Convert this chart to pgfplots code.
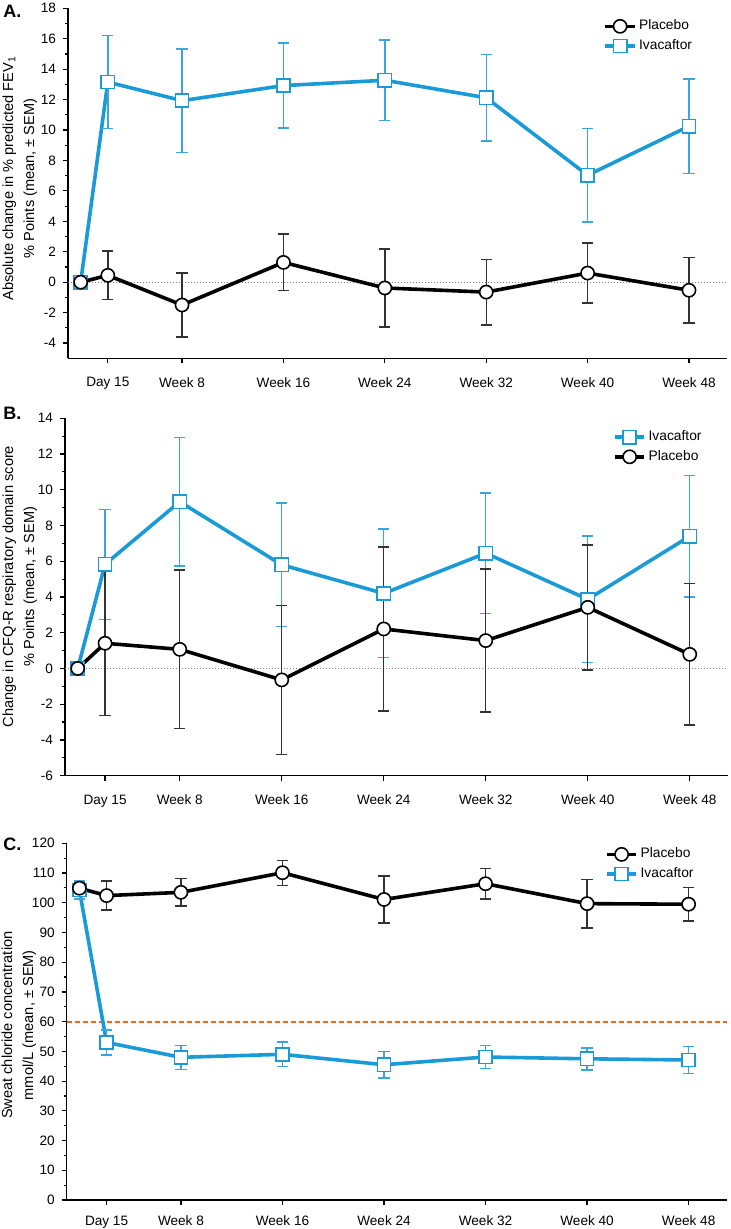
\documentclass[border=0pt]{standalone}
\usepackage{fontspec}
\setmainfont{Liberation Sans}
\usepackage{pgfplots}
\pgfplotsset{compat=1.18}

\definecolor{ivablue}{HTML}{1A9BD7}
\definecolor{errblue}{HTML}{3AA6DA}
\definecolor{refor}{RGB}{240,100,30}

\pgfplotsset{
  base/.style={
    scale only axis,
    axis x line*=bottom, axis y line*=left,
    xmin=-1, xmax=51,
    xtick={2.142857,8,16,24,32,40,48},
    xticklabels={Day 15,Week 8,Week 16,Week 24,Week 32,Week 40,Week 48},
    tick align=outside,
    major tick length=2.5pt, minor tick length=1.5pt,
    tick style={black, line width=0.6pt},
    minor x tick num=0,
    axis line style={line width=0.7pt},
    ticklabel style={font=\fontsize{6.8}{8}\selectfont},
    /pgf/number format/assume math mode=true,
    minor y tick num=1,
    ylabel style={align=center, font=\fontsize{7.3}{10.5}\selectfont, anchor=south},
    legend style={draw=none, fill=none, anchor=north west, font=\fontsize{6.9}{8.5}\selectfont,
      row sep=0.9pt, inner sep=0pt, nodes={inner sep=1.2pt}},
    legend cell align=left,
    legend image code/.code={\draw[mark repeat=2,mark phase=2,##1] plot coordinates {(0cm,0cm) (0.26cm,0cm) (0.52cm,0cm)};},
    clip=false,
  },
  plac/.style={black, line width=1.8pt, mark=*, mark size=3.3pt,
    mark options={solid, fill=white, draw=black, line width=0.8pt},
    error bars/.cd, y dir=both, y explicit,
    error bar style={line width=0.7pt, black!80},
    error mark options={rotate=90, mark size=2.8pt, line width=0.7pt, black!80}},
  ivac/.style={ivablue, line width=1.8pt, mark=square*, mark size=3.3pt,
    mark options={solid, fill=white, draw=ivablue, line width=0.8pt},
    error bars/.cd, y dir=both, y explicit,
    error bar style={line width=0.7pt, errblue},
    error mark options={rotate=90, mark size=2.8pt, line width=0.7pt, errblue}},
}

\begin{document}
\begin{tikzpicture}
\useasboundingbox (0,0) rectangle (365pt,614.5pt);

\node[anchor=north west, inner sep=0pt, font=\bfseries\fontsize{9}{10}\selectfont] at (1.5pt,612pt) {A.};
\node[anchor=north west, inner sep=0pt, font=\bfseries\fontsize{9}{10}\selectfont] at (1.5pt,411pt) {B.};
\node[anchor=north west, inner sep=0pt, font=\bfseries\fontsize{9}{10}\selectfont] at (1.5pt,195.5pt) {C.};

% ---------------- Panel A ----------------
\begin{axis}[base, at={(34pt,435.35pt)}, anchor=south west, width=329.5pt, height=175pt,
  ymin=-5, ymax=18, ytick={-4,-2,...,18},
  xticklabel style={yshift=-3.5pt},
  ylabel={Absolute change in \% predicted FEV\textsubscript{1}\\\% Points (mean, ± SEM)},
  ylabel style={at={(axis description cs:-0.036,0.514)}},
  legend style={at={(rel axis cs:0.812,0.975)}},
  reverse legend]
\addplot[forget plot, densely dotted, gray, line width=0.5pt] coordinates {(-1,0) (51,0)};
\addplot[ivac] coordinates {
 (0,0) +- (0,0)
 (2.142857,13.15) +- (0,3.05)
 (8,11.93) +- (0,3.4)
 (16,12.92) +- (0,2.8)
 (24,13.27) +- (0,2.65)
 (32,12.12) +- (0,2.85)
 (40,7.03) +- (0,3.08)
 (48,10.25) +- (0,3.1)
};
\addlegendentry{Ivacaftor}
\addplot[plac] coordinates {
 (0,0) +- (0,0)
 (2.142857,0.45) +- (0,1.6)
 (8,-1.5) +- (0,2.1)
 (16,1.3) +- (0,1.86)
 (24,-0.38) +- (0,2.56)
 (32,-0.65) +- (0,2.15)
 (40,0.6) +- (0,1.97)
 (48,-0.53) +- (0,2.15)
};
\addlegendentry{Placebo}
\end{axis}

% ---------------- Panel B ----------------
\begin{axis}[base, at={(32.5pt,226.65pt)}, anchor=south west, width=331.5pt, height=178.7pt,
  ymin=-6, ymax=14, ytick={-6,-4,...,14},
  xticklabel style={yshift=-3.5pt},
  ylabel={Change in CFQ-R respiratory domain score\\\% Points (mean, ± SEM)},
  ylabel style={at={(axis description cs:-0.0315,0.529)}},
  legend style={at={(rel axis cs:0.826,0.973)}}]
\addplot[forget plot, densely dotted, gray, line width=0.5pt] coordinates {(-1,0) (51,0)};
\addplot[ivac] coordinates {
 (0,0) +- (0,0)
 (2.142857,5.83) +- (0,3.08)
 (8,9.33) +- (0,3.6)
 (16,5.8) +- (0,3.45)
 (24,4.2) +- (0,3.6)
 (32,6.45) +- (0,3.38)
 (40,3.87) +- (0,3.54)
 (48,7.4) +- (0,3.4)
};
\addlegendentry{Ivacaftor}
\addplot[plac] coordinates {
 (0,0) +- (0,0)
 (2.142857,1.41) +- (0,4.05)
 (8,1.07) +- (0,4.43)
 (16,-0.64) +- (0,4.17)
 (24,2.21) +- (0,4.59)
 (32,1.56) +- (0,4.0)
 (40,3.42) +- (0,3.5)
 (48,0.79) +- (0,3.95)
};
\addlegendentry{Placebo}
\end{axis}

% ---------------- Panel C ----------------
\begin{axis}[base, at={(33.35pt,14.5pt)}, anchor=south west, width=330pt, height=178.35pt,
  ymin=0, ymax=120, ytick={0,10,...,120},
  xticklabel style={yshift=-2pt},
  ylabel={Sweat chloride concentration\\mmol/L (mean, ± SEM)},
  ylabel style={at={(axis description cs:-0.0354,0.49)}},
  legend style={at={(rel axis cs:0.815,0.995)}},
  reverse legend]
\addplot[forget plot, color=refor, dash pattern=on 2.5pt off 1.5pt, line width=1pt] coordinates {(-1,60) (51,60)};
\addplot[ivac] coordinates {
 (0,104.3) +- (0,3)
 (2.142857,53.0) +- (0,4.2)
 (8,48.0) +- (0,4)
 (16,49.0) +- (0,4.1)
 (24,45.5) +- (0,4.4)
 (32,48.1) +- (0,3.8)
 (40,47.5) +- (0,3.7)
 (48,47.1) +- (0,4.5)
};
\addlegendentry{Ivacaftor}
\addplot[plac] coordinates {
 (0,104.9) +- (0,2)
 (2.142857,102.4) +- (0,4.9)
 (8,103.5) +- (0,4.6)
 (16,110.1) +- (0,4.2)
 (24,101.1) +- (0,7.9)
 (32,106.4) +- (0,5.2)
 (40,99.7) +- (0,8.2)
 (48,99.5) +- (0,5.7)
};
\addlegendentry{Placebo}
\end{axis}
\end{tikzpicture}
\end{document}
